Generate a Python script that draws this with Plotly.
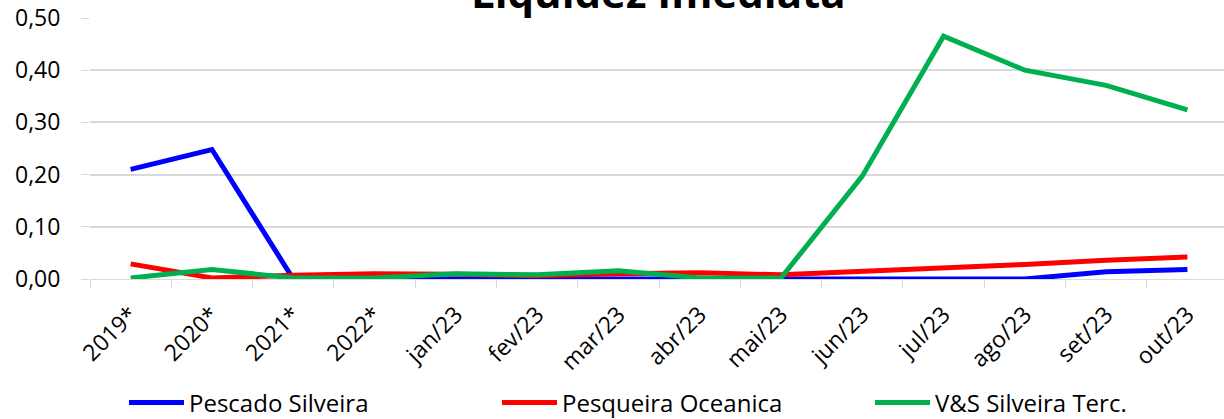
import plotly.graph_objects as go

categories = ["2019*", "2020*", "2021*", "2022*", "jan/23", "fev/23", "mar/23",
              "abr/23", "mai/23", "jun/23", "jul/23", "ago/23", "set/23", "out/23"]
pescado_silveira = [0.210, 0.248, 0.000, 0.000, 0.000, 0.000, 0.000,
                    0.000, 0.000, 0.000, 0.000, 0.000, 0.014, 0.018]
pesqueira_oceanica = [0.029, 0.002, 0.007, 0.010, 0.009, 0.006, 0.010,
                      0.012, 0.008, 0.014, 0.020, 0.028, 0.036, 0.042]
vs_silveira = [0.002, 0.018, 0.002, 0.002, 0.010, 0.008, 0.016,
               0.002, 0.002, 0.197, 0.465, 0.400, 0.371, 0.324]
y_ticks = [0.0, 0.1, 0.2, 0.3, 0.4, 0.5]
y_tick_text = ["0,00", "0,10", "0,20", "0,30", "0,40", "0,50"]

FONT = "Open Sans"

fig = go.Figure()
for name, vals, color in [("Pescado Silveira", pescado_silveira, "#0000FF"),
                          ("Pesqueira Oceanica", pesqueira_oceanica, "#FF0000"),
                          ("V&S Silveira Terc.", vs_silveira, "#00B050")]:
    fig.add_trace(go.Scatter(x=categories, y=vals, name=name, mode="lines",
                             line=dict(color=color, width=5)))

fig.update_layout(
    width=1224, height=419,
    margin=dict(l=90, r=0, t=18, b=140, autoexpand=False),
    paper_bgcolor="white", plot_bgcolor="white",
    font=dict(family=FONT, size=21, color="#000000"),
    showlegend=True,
    legend=dict(orientation="h", x=0.03, xanchor="left", y=-0.475, yanchor="middle",
                font=dict(family=FONT, size=24), entrywidth=303, entrywidthmode="pixels",
                itemwidth=55),
    annotations=[dict(text="<b>Liquidez Imediata</b>", xref="paper", yref="paper",
                      x=0.501, y=1.103, xanchor="center", yanchor="middle", showarrow=False,
                      font=dict(family=FONT, size=42, color="#000000"))],
)
fig.update_xaxes(type="category", tickangle=-45, showgrid=False,
                 ticks="outside", tickson="boundaries", ticklen=8, tickcolor="#d9d9d9",
                 showline=True, linecolor="#d9d9d9", linewidth=1,
                 tickfont=dict(family=FONT, size=23), automargin=False,
                 ticklabelstandoff=12,
                 range=[-0.5, 13.45])
fig.update_yaxes(range=[0, 0.5], tickvals=y_ticks, ticktext=y_tick_text,
                 showgrid=True, gridcolor="#d9d9d9", gridwidth=1.5,
                 zeroline=False, showline=False, ticks="outside", ticklen=8,
                 tickcolor="#d9d9d9", tickfont=dict(family=FONT, size=23),
                 ticklabelstandoff=16,
                 ticklabeloverflow="allow", automargin=False)

fig.write_html("out.html", config={"displayModeBar": False},
               post_script="document.body.style.margin='0';document.body.style.padding='0';")
